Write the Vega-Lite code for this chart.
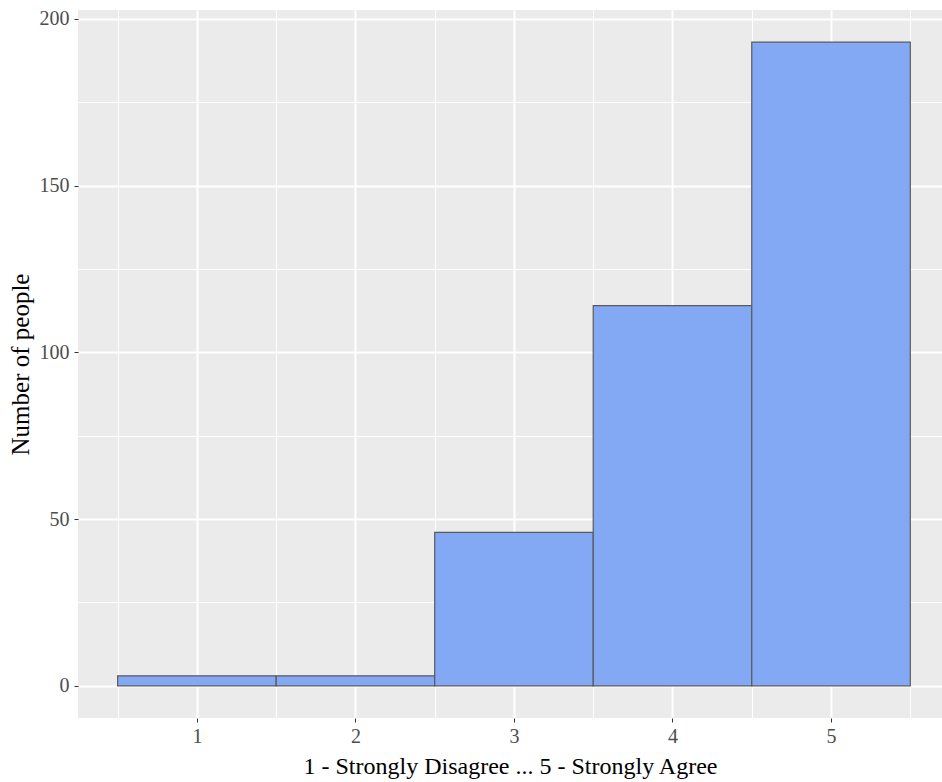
{
  "$schema": "https://vega.github.io/schema/vega-lite/v6.json",
  "width": 864,
  "height": 708,
  "autosize": {"type": "none"},
  "padding": {"left": 78, "top": 10, "right": 0, "bottom": 64},
  "background": "white",
  "config": {
    "view": {"fill": "#EBEBEB", "stroke": null},
    "font": "Liberation Serif"
  },
  "data": {
    "values": [
      {"response": 1, "lo": 0.5, "hi": 1.5, "count": 3},
      {"response": 2, "lo": 1.5, "hi": 2.5, "count": 3},
      {"response": 3, "lo": 2.5, "hi": 3.5, "count": 46},
      {"response": 4, "lo": 3.5, "hi": 4.5, "count": 114},
      {"response": 5, "lo": 4.5, "hi": 5.5, "count": 193}
    ]
  },
  "mark": {"type": "bar", "fill": "#84A9F4", "stroke": "#5A5A5A", "strokeWidth": 1.2, "clip": true},
  "encoding": {
    "x": {
      "field": "lo", "type": "quantitative",
      "scale": {"domain": [0.25, 5.7], "nice": false, "zero": false},
      "axis": {
        "title": "1 - Strongly Disagree ... 5 - Strongly Agree",
        "values": [0.5, 1, 1.5, 2, 2.5, 3, 3.5, 4, 4.5, 5, 5.5],
        "labelExpr": "datum.value % 1 === 0 ? format(datum.value, 'd') : ''",
        "labelOverlap": false,
        "labelFontSize": 20,
        "labelColor": "#4D4D4D",
        "labelPadding": 4,
        "tickSize": 4,
        "tickColor": "#333333",
        "tickOpacity": {"condition": {"test": "datum.value % 1 === 0", "value": 1}, "value": 0},
        "domain": false,
        "grid": true,
        "gridColor": "white",
        "gridWidth": {"condition": {"test": "datum.value % 1 === 0", "value": 2}, "value": 1},
        "titleFontSize": 24,
        "titleFontWeight": "normal",
        "titleColor": "black",
        "titlePadding": 8
      }
    },
    "x2": {"field": "hi"},
    "y": {
      "field": "count", "type": "quantitative",
      "scale": {"domain": [-9.65, 202.65], "nice": false, "zero": false},
      "axis": {
        "title": "Number of people",
        "values": [0, 25, 50, 75, 100, 125, 150, 175, 200],
        "labelExpr": "datum.value % 50 === 0 ? datum.label : ''",
        "labelOverlap": false,
        "labelFontSize": 20,
        "labelColor": "#4D4D4D",
        "labelPadding": 5,
        "tickSize": 4,
        "tickColor": "#333333",
        "tickOpacity": {"condition": {"test": "datum.value % 50 === 0", "value": 1}, "value": 0},
        "domain": false,
        "grid": true,
        "gridColor": "white",
        "gridWidth": {"condition": {"test": "datum.value % 50 === 0", "value": 2}, "value": 1},
        "titleFontSize": 25,
        "titleFontWeight": "normal",
        "titleColor": "black",
        "titlePadding": 6
      }
    },
    "y2": {"datum": 0}
  }
}
